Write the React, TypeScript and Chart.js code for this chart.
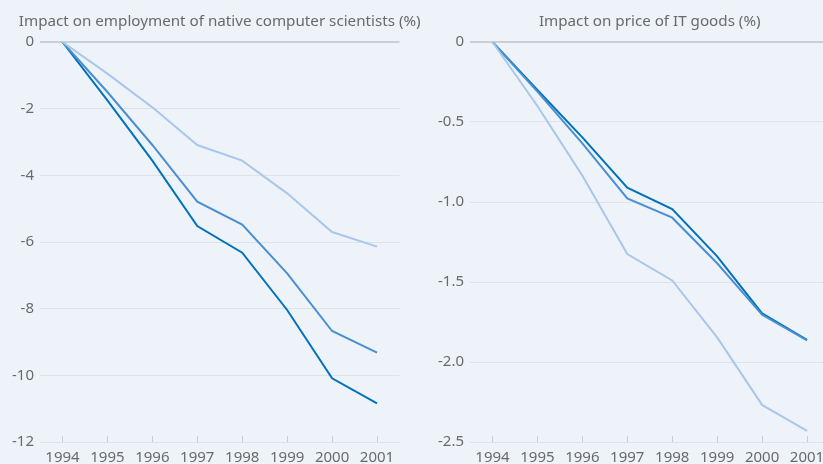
import React, { useEffect, useRef } from "react";
import { Chart, registerables } from "chart.js";

Chart.register(...registerables);

const years = ["1994", "1995", "1996", "1997", "1998", "1999", "2000", "2001"];

const leftTitle = "Impact on employment of native computer scientists (%)";
const leftDark = [0, -1.75, -3.56, -5.52, -6.32, -8.04, -10.09, -10.84];
const leftMid = [0, -1.5, -3.09, -4.79, -5.48, -6.94, -8.67, -9.32];
const leftLight = [0, -0.95, -1.96, -3.09, -3.56, -4.54, -5.7, -6.14];

const rightTitle = "Impact on price of IT goods (%)";
const rightDark = [0, -0.3, -0.596, -0.91, -1.044, -1.34, -1.696, -1.862];
const rightMid = [0, -0.31, -0.633, -0.977, -1.098, -1.383, -1.705, -1.865];
const rightLight = [0, -0.4, -0.835, -1.325, -1.49, -1.846, -2.268, -2.43];

const BG = "#eef3fa";
const TEXT = "#6a6a6a";
const DARK = "#0072bc";
const MID = "#4a90d0";
const LIGHT = "#a8c7ea";
const FONT = "'Noto Sans', sans-serif";

const innerTicks = {
  id: "innerTicks",
  afterDatasetsDraw(chart: any) {
    const { ctx, chartArea, scales } = chart;
    const x = scales.x;
    ctx.save();
    ctx.strokeStyle = "#c9cdd2";
    ctx.lineWidth = 1;
    for (let i = 0; i < chart.data.labels.length; i++) {
      const px = Math.round(x.getPixelForValue(i)) + 0.5;
      ctx.beginPath();
      ctx.moveTo(px, chartArea.bottom);
      ctx.lineTo(px, chartArea.bottom - 6);
      ctx.stroke();
    }
    ctx.restore();
  },
};

const areaTitle = {
  id: "areaTitle",
  afterDraw(chart: any, _args: any, opts: any) {
    const { ctx, chartArea } = chart;
    ctx.save();
    ctx.font = `normal 15.2px ${FONT}`;
    ctx.fillStyle = TEXT;
    ctx.textAlign = "center";
    ctx.textBaseline = "middle";
    ctx.fillText(opts.text, (chartArea.left + chartArea.right) / 2, 21.5);
    ctx.restore();
  },
};

function makeConfig(title: string, dark: number[], mid: number[], light: number[], min: number, step: number, fmt: (v: number) => string) {
  const ds = (data: number[], color: string) => ({
    data,
    borderColor: color,
    backgroundColor: color,
    borderWidth: 2,
    pointRadius: 0,
    tension: 0,
    fill: false,
  });
  return {
    type: "line",
    data: {
      labels: years,
      datasets: [ds(light, LIGHT), ds(mid, MID), ds(dark, DARK)],
    },
    options: {
      animation: false,
      responsive: false,
      maintainAspectRatio: false,
      layout: { padding: { left: 0, right: 40.5, top: 42, bottom: 0 } },
      plugins: {
        legend: { display: false },
        tooltip: { enabled: false },
        title: { display: false },
        areaTitle: { text: title },
      },
      scales: {
        x: {
          offset: true,
          grid: { display: false, drawTicks: false },
          border: { display: false },
          ticks: {
            color: TEXT,
            font: { family: FONT, size: 15 },
            padding: 7,
            maxRotation: 0,
            autoSkip: false,
          },
          afterFit: (s: any) => {
            s.height = 22;
          },
        },
        y: {
          min,
          max: 0,
          border: { display: false },
          grid: {
            drawTicks: false,
            color: (c: any) => (c.tick && c.tick.value === 0 ? "#cbcfd5" : "#dfe3e8"),
            lineWidth: (c: any) => (c.tick && c.tick.value === 0 ? 2 : 1),
          },
          ticks: {
            stepSize: step,
            color: TEXT,
            font: { family: FONT, size: 15 },
            padding: 6,
            callback: (v: any) => fmt(Number(v)),
          },
          afterFit: (s: any) => {
            s.width = 40;
          },
        },
      },
    },
    plugins: [innerTicks, areaTitle],
  } as any;
}

function Panel({ left, config }: { left: number; config: any }) {
  const ref = useRef<HTMLCanvasElement | null>(null);
  useEffect(() => {
    if (!ref.current) return;
    const chart = new Chart(ref.current, config);
    return () => chart.destroy();
  }, [config]);
  return (
    <canvas
      ref={ref}
      width={440}
      height={464}
      style={{ position: "absolute", left, top: 0, width: 440, height: 464 }}
    />
  );
}

const leftConfig = makeConfig(leftTitle, leftDark, leftMid, leftLight, -12, 2, (v) => String(v));
const rightConfig = makeConfig(rightTitle, rightDark, rightMid, rightLight, -2.5, 0.5, (v) => (v === 0 ? "0" : v.toFixed(1)));

export default function App() {
  return (
    <div
      style={{
        position: "fixed",
        left: 0,
        top: 0,
        width: 823,
        height: 464,
        overflow: "hidden",
        background: BG,
      }}
    >
      <Panel left={0} config={leftConfig} />
      <Panel left={430} config={rightConfig} />
    </div>
  );
}
